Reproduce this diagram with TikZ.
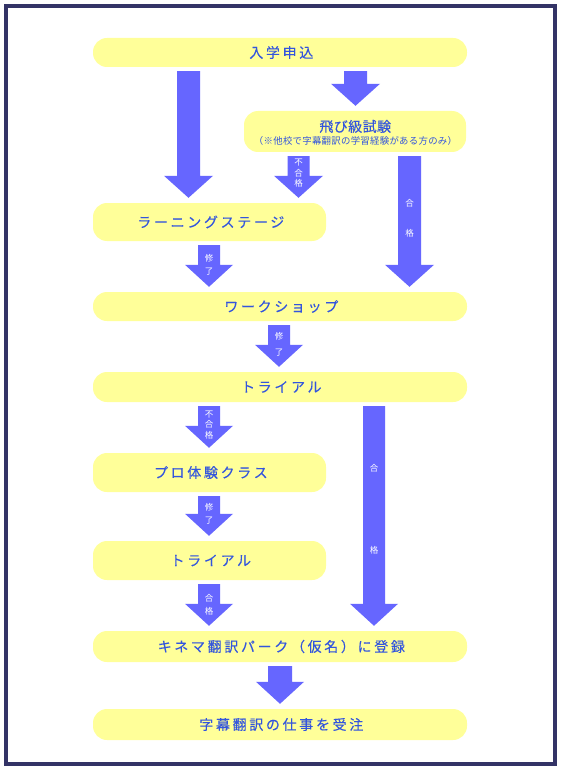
\documentclass[tikz,border=0pt]{standalone}
\usepackage{fontspec}
\setmainfont{Noto Sans CJK JP}
\usetikzlibrary{calc}
\definecolor{boxy}{HTML}{FFFF99}
\definecolor{arr}{HTML}{6666FF}
\definecolor{txt}{HTML}{3355DD}
\definecolor{framec}{HTML}{333366}
\newcommand\tx[1]{#1\kern-0.19em}
% #1 x centre, #2 from node, #3 to node, #4 shaft half width, #5 head half width
\newcommand\blockarrow[5]{%
  \fill[arr] let \p1=(#2.south), \p2=(#3.north) in
    ({#1pt-#4pt},{\y1-4pt}) -- ({#1pt+#4pt},{\y1-4pt}) -- ({#1pt+#4pt},{\y2+27pt})
    -- ({#1pt+#5pt},{\y2+27pt}) -- ({#1pt},{\y2+5pt}) -- ({#1pt-#5pt},{\y2+27pt})
    -- ({#1pt-#4pt},{\y2+27pt}) -- cycle;}
\tikzset{
  stage/.style={fill=boxy, rounded corners=14pt, inner sep=0pt, text=txt,
    font=\fontsize{14}{16}\selectfont\addfontfeature{LetterSpace=19,FakeBold=0.15}},
  wide/.style={stage, minimum width=374pt, minimum height=30pt},
  narrow/.style={stage, minimum width=233pt, minimum height=39pt},
  albl/.style={text=white, font=\fontsize{8.5}{10.5}\selectfont, align=center, inner sep=0pt},
}
\begin{document}
\begin{tikzpicture}[x=1pt,y=-1pt]
\useasboundingbox (0,0) rectangle (560,770);
\fill[white] (0,0) rectangle (560,770);
\draw[framec, line width=4pt] (6,6.5) rectangle (555,764);

% boxes
\node[wide, minimum height=29pt] (b1) at (280,52.5) {\tx{入学申込}};
\node[stage, minimum width=222pt, minimum height=41pt] (b2) at (355,131.5) {};
\node[text=txt, inner sep=0pt, font=\fontsize{14}{15}\selectfont\addfontfeature{LetterSpace=3,FakeBold=0.2}] (b2t) at (355,126.5) {飛び級試験\kern-0.03em};
\node[text=txt, inner sep=0pt, font=\fontsize{9.4}{11}\selectfont\addfontfeature{LetterSpace=3}] (b2n) at (355.5,140.5) {（※他校で字幕翻訳の学習経験がある方のみ）};
\node[narrow, minimum height=38pt] (b3) at (209.5,222) {\tx{ラーニングステージ}};
\node[wide, minimum height=29pt] (b4) at (280,306.5) {\tx{ワークショップ}};
\node[wide] (b5) at (280,387) {\tx{トライアル}};
\node[narrow] (b6) at (209.5,472.5) {\tx{プロ体験クラス}};
\node[narrow] (b7) at (209.5,560.5) {\tx{トライアル}};
\node[wide, minimum height=31pt] (b8) at (280,646.5) {\tx{キネマ翻訳パーク（仮名）に登録}};
\node[wide, minimum height=31pt] (b9) at (280,724.5) {\tx{字幕翻訳の仕事を受注}};

% arrows
\blockarrow{188.5}{b1}{b3}{11.5}{24.5}
\blockarrow{355.5}{b1}{b2}{11.5}{24.5}
\blockarrow{298.5}{b2}{b3}{11}{24.5}
\blockarrow{409.5}{b2}{b4}{11.5}{24.5}
\blockarrow{209}{b3}{b4}{11}{24}
\blockarrow{279}{b4}{b5}{11}{24}
\blockarrow{209}{b5}{b6}{11}{24}
\blockarrow{374}{b5}{b8}{11}{24}
\blockarrow{209}{b6}{b7}{11}{24}
\blockarrow{209}{b7}{b8}{11}{24}
\blockarrow{280}{b8}{b9}{12}{24}

% arrow labels
\node[albl] (l3) at (298.5,173.5) {不\\合\\格};
\node[albl] (l4) at (409.5,218) {合\\[19.5pt]格};
\node[albl] (l5) at (209,264.5) {修\\[2.5pt]了};
\node[albl] (l6) at (279,344) {修\\[5.5pt]了};
\node[albl] (l7) at (209,425) {不\\合\\格};
\node[albl] (l8) at (374,509) {合\\[71.5pt]格};
\node[albl] (l9) at (209,513.5) {修\\[2.5pt]了};
\node[albl] (l10) at (209,604.5) {合\\[2.5pt]格};
\end{tikzpicture}
\end{document}
